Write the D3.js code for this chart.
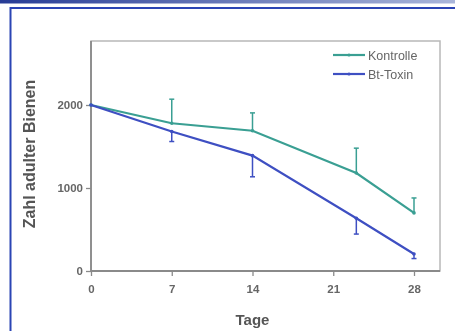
<!DOCTYPE html>
<meta charset="utf-8">
<script src="https://cdn.jsdelivr.net/npm/d3@7"></script>
<style>
  body { margin: 0; background: #fff; }
  svg { display: block; font-family: "Liberation Sans", Arial, sans-serif; filter: blur(0.4px); }
</style>
<body>
<script>
// days, series values and one-sided error bars
var days = [0, 7, 14, 23, 28];
var kontrolle = [2000, 1780, 1690, 1180, 700];
var kontrolleErr = [0, 290, 215, 300, 180];   // drawn upwards
var btToxin = [2000, 1680, 1390, 635, 205];
var btToxinErr = [0, 120, 255, 190, 55];      // drawn downwards
var xTicks = [0, 7, 14, 21, 28];
var yTicks = [0, 1000, 2000];

var W = 455, H = 331;
var svg = d3.select("body").append("svg")
    .attr("width", W)
    .attr("height", H);

// top gradient strip and blue page frame
var grad = svg.append("defs").append("linearGradient").attr("id", "topbar");
grad.append("stop").attr("offset", "0%").attr("stop-color", "#273c96");
grad.append("stop").attr("offset", "100%").attr("stop-color", "#aab6da");
svg.append("rect").attr("x", 0).attr("y", 0).attr("width", W).attr("height", 3.5)
    .attr("fill", "url(#topbar)");
svg.append("path")
    .attr("d", "M" + W + ",8 H10.5 V" + H)
    .attr("fill", "none")
    .attr("stroke", "#2b44b4")
    .attr("stroke-width", 2);

var x = d3.scaleLinear().domain([0, 28]).range([91, 414]);
var y = d3.scaleLinear().domain([0, 2000]).range([271, 105]);

var frame = { left: 91, top: 41, right: 440, bottom: 271 };

// light grey plot box
svg.append("rect")
    .attr("x", frame.left).attr("y", frame.top)
    .attr("width", frame.right - frame.left)
    .attr("height", frame.bottom - frame.top)
    .attr("fill", "none")
    .attr("stroke", "#b8b8b8")
    .attr("stroke-width", 1.5);

var grey = "#666";

var yAxis = svg.append("g")
    .attr("transform", "translate(" + frame.left + ",0)")
    .call(d3.axisLeft(y).tickValues(yTicks).tickFormat(d3.format("d"))
      .tickSize(5).tickPadding(3).tickSizeOuter(0));
yAxis.select(".domain").remove();
svg.append("line")
    .attr("x1", frame.left).attr("x2", frame.left)
    .attr("y1", frame.top).attr("y2", frame.bottom)
    .attr("stroke", "#8a8a8a").attr("stroke-width", 1.8);

var xAxis = svg.append("g")
    .attr("transform", "translate(0," + frame.bottom + ")")
    .call(d3.axisBottom(x).tickValues(xTicks).tickSize(5).tickPadding(9).tickSizeOuter(0));
xAxis.select(".domain").remove();
svg.append("line")
    .attr("x1", frame.left).attr("x2", frame.right)
    .attr("y1", frame.bottom).attr("y2", frame.bottom)
    .attr("stroke", "#8a8a8a").attr("stroke-width", 1.8);

svg.selectAll(".tick line").attr("stroke", "#8a8a8a").attr("stroke-width", 1.3);
svg.selectAll(".tick text")
    .attr("fill", grey)
    .style("font-size", "11.5px")
    .style("font-weight", "bold");

// axis titles
svg.append("text")
    .attr("x", (x(0) + x(28)) / 2).attr("y", 325)
    .attr("text-anchor", "middle")
    .attr("fill", "#555")
    .style("font-size", "15px").style("font-weight", "bold")
    .text("Tage");
svg.append("text")
    .attr("transform", "translate(35,154) rotate(-90)")
    .attr("text-anchor", "middle")
    .attr("fill", "#555")
    .style("font-size", "16px").style("font-weight", "bold")
    .text("Zahl adulter Bienen");

var series = [
  { name: "Kontrolle", values: kontrolle, err: kontrolleErr, dir: 1, color: "#3a9f93" },
  { name: "Bt-Toxin", values: btToxin, err: btToxinErr, dir: -1, color: "#3e4fc2" }
];

var line = d3.line().x(function(d) { return x(d.day); }).y(function(d) { return y(d.v); });

series.forEach(function(s) {
  var pts = days.map(function(d, i) { return { day: d, v: s.values[i], e: s.err[i] }; });
  var g = svg.append("g");
  g.append("path")
      .datum(pts)
      .attr("d", line)
      .attr("fill", "none")
      .attr("stroke", s.color)
      .attr("stroke-width", 2.2);
  var eb = g.selectAll(".err").data(pts.filter(function(p) { return p.e > 0; }))
      .enter().append("g");
  eb.append("line")
      .attr("x1", function(p) { return x(p.day); })
      .attr("x2", function(p) { return x(p.day); })
      .attr("y1", function(p) { return y(p.v); })
      .attr("y2", function(p) { return y(p.v + s.dir * p.e); })
      .attr("stroke", s.color).attr("stroke-width", 1.5);
  eb.append("line")
      .attr("x1", function(p) { return x(p.day) - 2.5; })
      .attr("x2", function(p) { return x(p.day) + 2.5; })
      .attr("y1", function(p) { return y(p.v + s.dir * p.e); })
      .attr("y2", function(p) { return y(p.v + s.dir * p.e); })
      .attr("stroke", s.color).attr("stroke-width", 1.5);
  g.selectAll(".pt").data(pts).enter().append("circle")
      .attr("cx", function(p) { return x(p.day); })
      .attr("cy", function(p) { return y(p.v); })
      .attr("r", 1.8)
      .attr("fill", s.color);
});

// legend
var legend = svg.append("g");
series.forEach(function(s, i) {
  var ly = 55 + i * 19;
  legend.append("line")
      .attr("x1", 333).attr("x2", 365)
      .attr("y1", ly).attr("y2", ly)
      .attr("stroke", s.color).attr("stroke-width", 2.2);
  legend.append("circle").attr("cx", 349).attr("cy", ly).attr("r", 1.6).attr("fill", s.color);
  legend.append("text")
      .attr("x", 368).attr("y", ly + 4.5)
      .attr("fill", grey)
      .style("font-size", "12.5px")
      .text(s.name);
});
</script>
</body>
